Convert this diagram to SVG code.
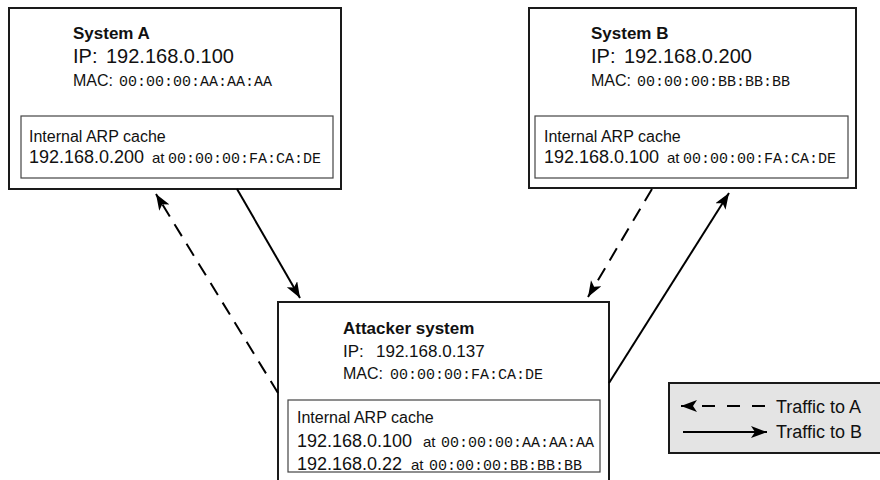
<svg xmlns="http://www.w3.org/2000/svg" width="880" height="480" viewBox="0 0 880 480">
<style>
.outer{fill:#fff;stroke:#1a1a1a;stroke-width:2}
.inner{fill:#fff;stroke:#444;stroke-width:1.2}
text{font-family:"Liberation Sans",Arial,sans-serif;fill:#111}
.title{font-weight:bold;font-size:17px}
.ip{font-size:20px}
.ipa{font-size:17px}
.lbl{font-size:16px}
.mono{font-family:"Liberation Mono","DejaVu Sans Mono",monospace;font-size:15px}
.cip{font-size:18px}
.at{font-size:15px}
.leg{font-size:18px}
.solid{stroke:#000;stroke-width:2;fill:none}
.dash{stroke:#000;stroke-width:2;fill:none;stroke-dasharray:14 9}
</style>
<defs>
<marker id="ah" markerUnits="userSpaceOnUse" markerWidth="18" markerHeight="14" refX="16" refY="6" orient="auto">
<path d="M0,0 L16,6 L0,12 L4,6 Z" fill="#000"/>
</marker>
</defs>

<g id="systemA">
<rect class="outer" x="9" y="8" width="332" height="181"/>
<text class="title" x="73" y="39">System A</text>
<text class="ip" y="63"><tspan x="73">IP:</tspan><tspan x="106">192.168.0.100</tspan></text>
<text y="86"><tspan class="lbl" x="73">MAC:</tspan><tspan class="mono" x="119">00:00:00:AA:AA:AA</tspan></text>
<rect class="inner" x="21" y="116" width="312" height="62"/>
<text class="lbl" x="29" y="142">Internal ARP cache</text>
<text y="163"><tspan class="cip" x="29">192.168.0.200</tspan><tspan class="at" x="152">at</tspan><tspan class="mono" x="168">00:00:00:FA:CA:DE</tspan></text>
</g>

<g id="systemB">
<rect class="outer" x="529" y="8" width="327" height="180"/>
<text class="title" x="591" y="39">System B</text>
<text class="ip" y="63"><tspan x="591">IP:</tspan><tspan x="624">192.168.0.200</tspan></text>
<text y="86"><tspan class="lbl" x="591">MAC:</tspan><tspan class="mono" x="637">00:00:00:BB:BB:BB</tspan></text>
<rect class="inner" x="535" y="116" width="313" height="62"/>
<text class="lbl" x="544" y="142">Internal ARP cache</text>
<text y="163"><tspan class="cip" x="544">192.168.0.100</tspan><tspan class="at" x="667">at</tspan><tspan class="mono" x="683">00:00:00:FA:CA:DE</tspan></text>
</g>

<g id="attacker">
<rect class="outer" x="278" y="302" width="331" height="190"/>
<text class="title" x="343" y="334">Attacker system</text>
<text class="ipa" y="357"><tspan x="343">IP:</tspan><tspan x="376">192.168.0.137</tspan></text>
<text y="379"><tspan class="lbl" x="343">MAC:</tspan><tspan class="mono" x="390">00:00:00:FA:CA:DE</tspan></text>
<rect class="inner" x="288" y="400" width="312" height="72"/>
<text class="lbl" x="297" y="423">Internal ARP cache</text>
<text y="447"><tspan class="cip" x="297">192.168.0.100</tspan><tspan class="at" x="423">at</tspan><tspan class="mono" x="441">00:00:00:AA:AA:AA</tspan></text>
<text y="470"><tspan class="cip" x="297">192.168.0.22</tspan><tspan class="at" x="411">at</tspan><tspan class="mono" x="429">00:00:00:BB:BB:BB</tspan></text>
</g>

<g id="legend">
<rect x="669" y="383" width="215" height="70" fill="#e4e4e4" stroke="#1a1a1a" stroke-width="2"/>
<line x1="765" y1="406" x2="681" y2="406" stroke="#000" stroke-width="2" stroke-dasharray="13 12" marker-end="url(#ah)"/>
<line class="solid" x1="683" y1="432" x2="767" y2="432" marker-end="url(#ah)"/>
<text class="leg" x="776" y="413">Traffic to A</text>
<text class="leg" x="776" y="438">Traffic to B</text>
</g>

<g id="connectors">
<line class="dash" x1="278" y1="393" x2="156" y2="194" marker-end="url(#ah)"/>
<line class="solid" x1="237" y1="189" x2="300" y2="298" marker-end="url(#ah)"/>
<line class="dash" x1="652" y1="189" x2="588" y2="297" marker-end="url(#ah)"/>
<line class="solid" x1="609" y1="383" x2="729" y2="193" marker-end="url(#ah)"/>
</g>
</svg>
